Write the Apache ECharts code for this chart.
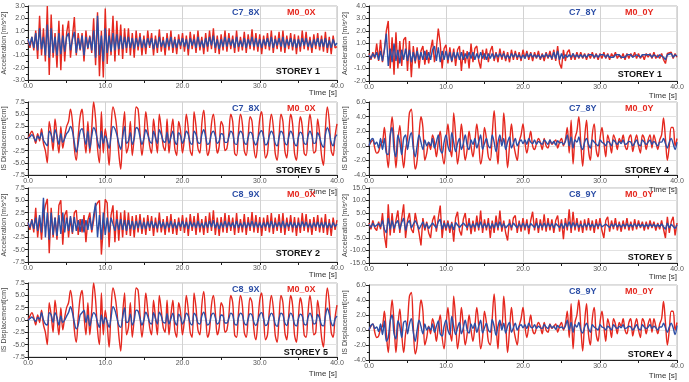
<!DOCTYPE html>
<html>
<head>
<meta charset="utf-8">
<script src="https://cdn.jsdelivr.net/npm/echarts@6/dist/echarts.min.js"></script>
<style>
html,body{margin:0;padding:0;background:#fff;}
#main{width:689px;height:382px;}
</style>
</head>
<body>
<div id="main"></div>
<script>
// sample step of the records [s], 0 .. 40 s
var dt = 0.25;
var time = [];
for (var k = 0; k <= 160; k++) time.push(k * dt);

// STOREY 1, X acceleration [m/s^2]
var accX1_M0 = [
 0.2,-0.4,0.5,-0.6, 1.0,-1.3,2.2,-1.0, 1.2,-1.5,3.0,-2.6, 2.3,-1.2,0.8,-2.0, 1.8,-2.2,1.5,-1.5,
 0.8,1.8,-1.2,0.5, 2.1,-1.0,0.8,-0.6, 0.8,-1.5,1.0,-0.5, 0.6,-0.8,2.0,-1.8, 2.5,-2.7,1.0,-2.8,
 2.8,-1.7,1.2,-1.0, 2.2,-1.5,1.8,-1.0, 1.5,-1.3,1.2,-0.8, 1.2,-1.0,0.8,-1.2, 1.0,-0.6,0.8,-1.0,
 0.6,-0.9,1.0,-0.4, 0.8,-1.0,0.6,-0.8, 1.1,-0.7,0.5,-1.0, 0.8,-0.6,1.0,-0.8, 0.5,-0.9,0.7,-0.5,
 0.8,-0.7,0.6,-1.0, 0.9,-0.5,0.7,-0.8, 1.0,-0.6,0.5,-0.9, 0.8,-0.7,1.0,-0.5, 1.2,-0.8,0.6,-0.9,
 0.7,-0.6,1.0,-0.7, 0.8,-0.5,0.6,-0.8, 1.0,-0.7,0.5,-0.6, 0.9,-0.8,0.7,-0.5, 1.1,-0.6,0.8,-0.7,
 0.7,-0.9,0.6,-0.5, 0.8,-0.6,1.0,-0.8, 0.6,-0.5,0.9,-0.7, 1.0,-0.8,0.6,-0.5, 0.8,-0.6,0.7,-0.9,
 0.6,-0.7,1.0,-0.5, 0.9,-0.6,0.5,-0.8, 0.7,-0.5,0.8,-0.6, 0.6,-0.7,0.9,-0.8, 0.5,-0.9,0.6,-0.4,
 -0.3];
var accX1_C7 = [
 0.3,-0.2,0.5,-0.4, 0.8,-0.6,1.2,-0.5, 0.5,-1.0,1.5,-1.2, 1.2,-0.8,0.5,-1.0, 0.8,-0.9,0.6,-0.7,
 0.5,0.8,-0.6,0.3, 0.9,-0.8,0.4,-0.5, 0.6,-1.0,0.5,-0.4, 0.5,-0.6,1.0,-1.2, 2.2,-1.0,0.6,-1.5,
 1.2,-0.8,0.6,-0.7, 0.8,-0.6,0.7,-0.5, 0.6,-0.5,0.5,-0.4, 0.5,-0.4,0.4,-0.5, 0.4,-0.3,0.5,-0.4,
 0.3,-0.4,0.4,-0.2, 0.4,-0.5,0.3,-0.4, 0.5,-0.3,0.2,-0.4, 0.4,-0.3,0.5,-0.4, 0.3,-0.4,0.3,-0.2,
 0.4,-0.3,0.3,-0.5, 0.4,-0.2,0.3,-0.4, 0.5,-0.3,0.2,-0.4, 0.4,-0.3,0.5,-0.2, 0.6,-0.4,0.3,-0.5,
 0.3,-0.3,0.5,-0.3, 0.4,-0.2,0.3,-0.4, 0.5,-0.3,0.2,-0.3, 0.4,-0.4,0.3,-0.2, 0.5,-0.3,0.4,-0.3,
 0.3,-0.4,0.3,-0.2, 0.4,-0.3,0.5,-0.4, 0.3,-0.2,0.4,-0.3, 0.5,-0.4,0.3,-0.2, 0.4,-0.3,0.3,-0.4,
 0.3,-0.3,0.4,-0.2, 0.4,-0.3,0.2,-0.4, 0.3,-0.2,0.4,-0.3, 0.3,-0.3,0.4,-0.4, 0.2,-0.4,0.3,-0.2,
 0.0];

// STOREY 1, Y acceleration [m/s^2]
var accY1_M0 = [
 0.2,-0.3,0.3,-0.2, 1.0,-0.4,1.3,-0.5, 0.5,2.0,2.8,-1.0, 1.5,-1.5,1.9,-1.0, 1.2,-0.8,1.3,1.5,
 -1.2,1.2,-1.7,0.8, -0.6,0.7,-1.0,0.4, 0.8,-0.7,0.5,-0.6, 0.5,1.3,-0.5,0.6, 2.2,1.0,-1.0,0.6,
 0.9,-0.6,0.7,-0.5, 0.6,-0.8,0.5,0.8, -1.2,0.5,-0.6,0.4, -1.0,1.0,-0.5,0.6, 0.8,-0.4,-1.0,0.5,
 -0.3,0.6,-0.5,0.4, 0.8,-0.4,0.3,-0.5, 0.6,-0.3,0.4,-0.4, 0.3,-0.5,0.5,-0.3, 0.4,-0.3,0.3,-0.4,
 0.5,-0.2,0.4,-0.3, 0.3,-0.4,0.3,-0.2, 0.4,-0.3,0.2,-0.4, 0.3,-0.2,0.4,-0.3, 0.5,-0.4,0.8,-0.6,
 -1.0,0.5,-0.4,0.3, 0.5,-0.3,0.2,-0.3, 0.3,-0.2,0.3,-0.2, 0.2,-0.3,0.2,-0.2, 0.3,-0.2,0.2,-0.3,
 0.2,-0.2,0.3,-0.2, 0.2,-0.3,0.2,-0.1, 0.3,-0.2,0.1,-0.2, 0.2,-0.3,0.2,-0.2, 0.2,-0.1,0.3,-0.2,
 0.2,-0.2,0.1,-0.3, 0.2,-0.1,0.2,-0.2, 0.3,-0.2,0.1,-0.2, 0.2,-0.3,-0.6,0.2, 0.1,0.3,-0.2,0.2,
 -0.1];
var accY1_C7 = [
 0.1,-0.2,0.2,-0.1, 0.3,-0.3,0.4,-0.4, 0.5,1.8,-0.8,0.6, -0.5,1.0,-0.4,0.5, -0.6,0.5,-0.3,0.6,
 -0.4,0.5,-0.5,0.3, -0.4,0.4,-0.3,0.3, -0.3,0.4,-0.3,0.3, -0.3,0.5,0.8,-0.4, 0.7,-0.5,0.4,-0.3,
 0.4,-0.3,0.3,-0.4, 0.3,-0.2,0.3,-0.3, 0.3,-0.3,0.2,-0.2, 0.3,-0.2,0.3,-0.3, 0.2,-0.2,0.3,-0.2,
 0.2,-0.3,0.2,-0.2, 0.2,-0.2,0.2,-0.1, 0.2,-0.1,0.2,-0.2, 0.1,-0.2,0.2,-0.1, 0.2,-0.1,0.1,-0.2,
 0.1,-0.2,0.2,-0.1, 0.2,-0.1,0.1,-0.1, 0.1,-0.2,0.1,-0.1, 0.2,-0.1,0.1,-0.2, 0.3,-0.2,0.4,-0.3,
 0.2,-0.2,0.1,-0.1, 0.1,-0.1,0.2,-0.1, 0.1,-0.1,0.1,-0.1, 0.1,-0.1,0.1,0.0, 0.1,-0.1,0.1,-0.1,
 0.1,0.0,0.1,-0.1, 0.1,-0.1,0.0,-0.1, 0.1,0.0,0.1,-0.1, 0.0,-0.1,0.1,0.0, 0.1,-0.1,0.0,0.1,
 0.0,-0.1,0.1,0.0, 0.1,0.0,0.1,-0.1, 0.1,0.0,-0.1,0.1, 0.0,-0.1,-0.3,0.1, 0.1,0.2,-0.1,0.1,
 0.0];

// STOREY 5, X isolation displacement [cm]
var dispX5_M0 = [
 0.0,0.8,1.5,0.5, -1.0,1.0,-0.5,2.0, -1.0,-2.5,-5.0,3.5, 1.0,-2.5,4.0,0.5, -3.0,2.5,-2.0,0.5,
 2.5,3.5,6.0,3.5, -2.0,-4.5,0.5,4.5, 6.0,1.0,-3.0,3.5, -3.0,2.0,7.5,4.0, -2.0,-5.0,5.5,-3.0,
 2.0,-1.0,-5.5,2.0, 6.5,5.0,2.0,-3.0, -6.3,1.0,5.5,-3.0, -1.5,3.5,-3.5,0.5, 6.5,6.0,1.0,-3.5,
 0.0,5.5,2.0,-1.5, -3.0,4.0,0.5,-3.0, 5.0,2.0,-1.5,-2.5, 4.0,-3.0,1.0,4.0, -2.0,-3.5,3.5,1.5,
 -3.0,0.0,5.0,2.0, -2.5,-3.5,5.5,2.5, -2.0,-3.0,3.0,5.8, 1.0,-3.5,-2.0,3.0, 5.0,1.5,-3.0,-1.5,
 3.5,2.5,-2.5,-2.0, 1.0,5.0,3.5,-3.0, -3.5,1.5,5.0,3.0, -2.5,-3.5,0.5,4.5, 3.5,-2.0,-4.0,-0.5,
 4.0,5.5,0.5,-4.0, -3.0,2.0,5.0,2.5, -3.0,-4.5,0.5,5.0, 3.5,-2.5,-4.0,1.0, 5.0,3.0,-3.0,-4.5,
 0.5,4.5,2.5,-3.0, -3.5,1.5,5.0,2.0, -3.0,-2.5,4.0,1.0, -3.5,-5.5,2.0,6.5, 3.5,-2.5,-3.5,0.5,
 3.0];
var dispX5_C7 = [
 0.0,0.3,0.8,0.2, -0.5,0.5,0.0,1.2, -0.3,-1.0,-1.5,1.5, 0.8,-0.8,1.8,0.5, -1.2,1.0,-0.8,0.0,
 1.0,1.5,2.5,1.5, -0.8,-2.8,-1.0,1.5, 2.0,0.5,-1.2,1.5, -2.0,0.5,2.2,1.5, -0.5,-2.0,1.5,-1.0,
 0.5,-0.5,-2.0,0.5, 2.5,2.0,0.8,-1.0, -2.2,0.2,2.5,-1.0, -0.5,1.2,-1.2,0.0, 2.2,2.0,0.3,-1.2,
 0.0,1.8,0.8,-0.5, -1.0,1.5,0.2,-1.0, 1.8,0.8,-0.5,-0.8, 1.3,-1.0,0.3,1.5, -0.5,-1.2,1.2,0.5,
 -1.0,0.0,1.5,0.8, -0.8,-1.2,1.5,0.8, -0.8,-1.0,0.8,1.8, 0.3,-1.2,-0.8,1.0, 1.5,0.5,-1.0,-0.5,
 1.0,0.8,-0.8,-0.8, 0.3,1.5,1.0,-1.0, -1.2,0.5,1.5,1.0, -0.8,-1.2,0.2,1.3, 1.0,-0.6,-1.3,-0.2,
 1.2,1.6,0.2,-1.3, -1.0,0.6,1.5,0.8, -1.0,-1.5,0.2,1.5, 1.0,-0.8,-1.3,0.3, 1.5,0.8,-1.0,-1.5,
 0.2,1.3,0.8,-1.0, -1.2,0.5,1.5,0.6, -1.0,-0.8,1.2,0.3, -1.2,-1.8,0.8,2.2, 1.2,-0.8,-1.5,0.2,
 0.8];
var dispX5_C8 = [
 0.0,0.3,0.6,0.2, -0.3,0.5,0.2,1.5, 0.0,-0.8,-1.0,1.5, 1.0,-0.5,1.5,0.5, -1.0,0.8,-0.5,0.0,
 0.8,1.5,2.7,1.5, -0.5,-1.8,-1.0,1.0, 1.5,2.0,-0.5,1.0, -1.2,0.5,1.5,1.0, -0.5,-1.5,1.0,-0.8,
 0.5,-0.3,-1.5,0.5, 2.7,2.0,0.5,-1.0, -1.5,0.5,2.5,-0.5, -0.3,1.2,-1.0,0.0, 2.0,1.8,0.3,-1.0,
 0.0,1.6,0.8,-0.5, -0.8,1.5,0.3,-0.8, 1.6,0.8,-0.5,-0.6, 1.3,-0.8,0.3,1.4, -0.3,-1.0,1.2,0.5,
 -0.8,0.0,1.4,0.8, -0.6,-1.0,1.4,0.8, -0.6,-0.8,0.8,1.6, 0.3,-1.0,-0.6,1.0, 1.4,0.5,-0.8,-0.4,
 1.0,0.8,-0.6,-0.6, 0.3,1.4,1.0,-0.8, -1.0,0.5,1.4,1.0, -0.6,-1.0,0.2,1.3, 1.0,-0.5,-1.1,-0.2,
 1.1,1.5,0.2,-1.1, -0.8,0.6,1.4,0.8, -0.8,-1.3,0.2,1.4, 1.0,-0.6,-1.1,0.3, 1.4,0.8,-0.8,-1.2,
 0.2,1.2,0.8,-0.8, -1.0,0.5,1.4,0.6, -0.8,-0.6,1.1,0.3, -1.0,-1.2,0.8,2.4, 1.2,-0.6,-1.2,0.2,
 0.8];

// STOREY 4, Y isolation displacement [cm]
var dispY4_M0 = [
 0.0,0.5,0.8,-0.3, -1.0,-0.8,0.2,0.5, 2.5,-0.5,-3.0,1.0, 4.0,1.0,-3.0,0.5, 2.8,-0.5,-3.0,-0.5,
 1.0,4.5,5.0,0.5, -3.2,-2.0,1.5,4.0, 2.5,-2.0,-1.0,0.5, -0.5,1.5,0.5,-1.5, 0.5,2.0,-1.0,-2.5,
 0.5,3.0,0.0,-1.5, 4.5,1.5,-2.5,-0.5, 3.0,0.5,-2.0,-0.5, 2.0,0.0,-1.5,0.5, 3.0,0.5,-2.5,-1.0,
 2.5,1.0,-1.5,-2.0, 1.5,4.8,1.0,-2.5, 1.0,0.5,4.5,1.0, -3.0,0.0,3.0,0.5, -1.0,-2.0,0.5,1.5,
 3.0,0.5,-1.0,0.5, 2.0,0.0,-0.5,0.3, 1.0,0.5,-0.5,1.0, 0.0,-0.3,0.8,0.2, 0.5,0.8,-0.3,0.5,
 1.0,0.0,0.8,2.5, -1.0,3.5,-2.5,1.0, 2.0,4.0,0.5,-2.8, 1.0,3.5,-0.5,-2.0, 1.5,3.0,-0.5,-1.5,
 1.0,2.5,0.5,-1.5, 1.5,0.5,-1.0,1.5, 0.8,-0.5,1.0,0.5, 1.5,0.0,-0.5,1.0, 1.5,-0.8,0.5,1.5,
 0.0,-1.0,1.5,1.0, -0.5,0.8,1.5,-0.3, 1.5,0.5,-0.5,0.8, 1.5,3.8,1.0,-2.0, 0.0,2.5,2.5,0.0,
 1.0];
var dispY4_C7 = [
 0.0,0.8,1.0,0.2, 0.5,-0.3,1.0,-0.5, 1.0,-1.0,-1.2,1.5, 2.5,-0.5,-1.5,1.5, 0.5,-1.2,1.0,1.5,
 -0.5,1.0,1.8,-0.3, -1.5,0.0,1.5,0.5, -0.5,0.8,0.0,0.5, 0.0,1.0,-0.3,0.5, 1.5,-0.5,-1.0,0.5,
 1.5,0.0,-0.8,1.8, 0.5,-0.8,0.3,1.0, -0.5,0.3,1.5,0.0, -0.5,0.8,0.2,1.0, -0.3,0.5,1.5,-0.5,
 0.3,1.0,0.0,-0.3, 1.5,0.5,-0.8,0.5, 1.5,0.0,1.0,-0.5, 0.5,1.2,-0.3,0.3, 1.0,0.0,0.5,0.8,
 0.3,0.8,0.2,1.0, 0.5,0.3,0.8,0.2, 0.6,0.4,0.2,0.8, 0.5,0.2,0.8,0.3, 0.6,0.1,0.7,0.4,
 0.5,0.2,0.6,1.5, 0.0,1.2,-0.3,0.8, 0.5,1.2,0.0,-0.5, 0.5,1.0,0.2,-0.3, 0.8,0.5,0.2,0.0,
 0.8,0.5,0.3,0.0, 0.6,0.4,0.0,0.8, 0.5,0.2,0.6,0.3, 0.8,0.2,0.3,0.6, 0.5,0.0,0.4,0.8,
 0.2,0.0,0.8,0.5, 0.2,0.5,0.8,0.2, 0.6,0.3,0.0,0.5, 0.5,1.0,0.3,-0.3, 0.5,1.0,0.3,-0.5,
 0.5];
var dispY4_C8 = [
 0.0,0.6,0.8,0.2, 0.4,-0.2,0.8,-0.6, 1.2,-1.5,-1.0,1.2, 2.0,-0.5,-1.2,1.2, 0.5,-1.0,1.0,1.2,
 -0.5,0.8,1.5,-0.3, -1.5,0.0,1.3,0.5, -0.5,0.8,0.0,0.4, 0.0,0.8,-0.3,0.5, 1.2,-0.5,-0.8,0.5,
 1.3,0.0,-0.6,1.8, 0.5,-0.6,0.3,1.0, -0.5,0.3,1.3,0.0, -0.4,0.8,0.2,0.9, -0.3,0.5,1.3,-0.4,
 0.3,0.9,0.0,-0.3, 1.4,0.5,-0.7,0.5, 1.3,0.0,0.9,-0.4, 0.5,1.0,-0.3,0.3, 0.9,0.0,0.5,0.7,
 0.3,0.7,0.2,0.9, 0.4,0.3,0.7,0.2, 0.5,0.3,0.2,0.7, 0.4,0.2,0.7,0.3, 0.5,0.1,0.6,0.3,
 0.4,0.2,0.5,1.3, 0.0,1.0,-0.3,0.7, 0.4,1.0,0.0,-0.4, 0.4,0.9,0.2,-0.3, 0.7,0.4,0.2,0.0,
 0.7,0.4,0.3,0.0, 0.5,0.3,0.0,0.7, 0.4,0.2,0.5,0.3, 0.7,0.2,0.3,0.5, 0.4,0.0,0.3,0.7,
 0.2,0.0,0.7,0.4, 0.2,0.4,0.7,0.2, 0.5,0.3,0.0,0.4, 0.4,0.9,0.3,-0.3, 0.4,0.9,0.3,-0.6,
 0.6];

// STOREY 2, X acceleration [m/s^2]
var accX2_M0 = [
 0.5,-1.0,1.2,-1.5, 3.5,-2.5,1.5,-3.0, 2.0,4.0,5.3,-5.7, 3.5,-2.5,1.5,-3.0, 4.0,5.0,-4.0,2.0,
 3.0,-2.5,1.5,-1.8, 2.5,3.0,-2.0,1.2, -1.5,2.0,-3.5,1.0, 2.5,-1.5,1.0,3.8, 4.5,5.0,-6.0,-6.3,
 5.2,4.5,-4.5,2.0, 4.0,-3.5,3.0,-3.2, 2.5,-2.5,3.0,-2.0, 2.5,-2.2,1.8,-2.5, 2.0,-1.5,2.2,-1.8,
 1.5,-2.0,2.0,-1.2, 1.8,-2.2,1.5,-1.5, 2.5,-1.5,1.2,-2.0, 1.8,-1.5,2.2,-1.8, 1.2,-2.0,1.5,-1.2,
 2.0,-1.6,1.5,-2.2, 2.2,-1.2,1.8,-2.0, 2.4,-1.5,1.2,-2.0, 1.8,-1.6,2.5,-1.2, 3.0,-2.0,1.5,-2.2,
 1.6,-1.5,2.4,-1.6, 2.0,-1.2,1.5,-2.0, 2.4,-1.6,1.2,-1.5, 2.2,-2.0,1.6,-1.2, 2.6,-1.5,2.0,-1.6,
 1.6,-2.2,1.5,-1.2, 2.0,-1.5,2.4,-1.8, 1.5,-1.2,2.2,-1.6, 2.4,-2.0,1.5,-1.2, 2.0,-1.5,1.6,-2.2,
 1.5,-1.6,2.4,-1.2, 2.2,-1.5,1.2,-2.0, 1.6,-1.2,2.0,-1.5, 1.5,-1.6,2.2,-2.0, 1.2,-2.2,1.5,-1.0,
 1.0];
var accX2_C8 = [
 0.5,-0.5,1.0,-0.8, 1.5,-1.2,2.0,-1.5, 5.5,-2.5,2.5,-3.0, 2.5,-2.0,1.5,-2.2, 2.0,-1.8,2.5,-1.5,
 1.5,-1.2,1.8,-1.5, 1.6,-1.2,1.0,-1.4, 1.2,-1.5,1.0,-1.0, 1.5,-1.0,2.0,4.5, -2.5,2.0,-3.0,2.5,
 -2.0,1.5,-1.5,1.5, 1.8,-1.2,1.2,-1.0, 1.2,-1.0,1.0,-1.2, 1.0,-0.8,0.8,-1.0, 0.8,-0.6,1.0,-0.8,
 0.6,-0.8,0.7,-0.5, 0.8,-0.6,0.5,-0.7, 0.9,-0.5,0.6,-0.8, 0.6,-0.5,0.8,-0.6, 0.5,-0.7,0.6,-0.4,
 0.8,-0.5,0.6,-0.8, 0.7,-0.4,0.5,-0.6, 0.8,-0.5,0.4,-0.6, 0.6,-0.5,0.8,-0.4, 1.0,-0.6,0.5,-0.8,
 0.5,-0.5,0.8,-0.5, 0.6,-0.4,0.5,-0.6, 0.8,-0.5,0.4,-0.5, 0.6,-0.6,0.5,-0.4, 0.8,-0.5,0.6,-0.5,
 0.5,-0.6,0.5,-0.4, 0.6,-0.5,0.8,-0.6, 0.5,-0.4,0.6,-0.5, 0.8,-0.6,0.5,-0.4, 0.6,-0.5,0.5,-0.6,
 0.5,-0.5,0.7,-0.4, 0.6,-0.5,0.4,-0.6, 0.5,-0.4,0.6,-0.5, 0.5,-0.5,0.6,-0.6, 0.4,-0.6,0.5,-0.3,
 0.2];

// STOREY 5, Y acceleration [m/s^2]
var accY5_M0 = [
 1.0,-1.5,2.0,-1.0, -2.0,1.5,-1.5,5.0, -4.0,-9.0,8.5,-4.0, 5.0,-3.0,2.0,6.0, -3.0,3.0,8.5,-5.0,
 2.0,5.0,-1.5,-3.0, 5.0,1.0,-3.0,-8.0, 3.0,-2.0,1.5,-3.0, -5.0,2.0,4.0,-2.5, 3.0,8.0,-5.0,2.0,
 -2.0,2.0,-3.0,1.5, -6.5,3.0,5.5,-2.0, -4.0,2.5,5.0,-2.0, 3.0,-3.5,2.0,-2.5, 4.0,-2.0,6.0,-3.0,
 2.5,-2.0,3.0,-5.0, 2.0,-3.0,4.0,-2.0, 6.0,-2.5,2.0,-3.0, -6.0,2.5,-2.0,3.0, 4.0,-3.0,2.0,-2.5,
 3.0,-2.0,2.5,-3.5, 2.0,5.5,-2.0,3.0, -3.0,2.5,-2.0,4.5, -2.5,3.0,-2.0,2.5, -3.0,2.0,4.0,-2.5,
 2.5,-5.5,3.0,-2.0, 6.5,-3.0,5.5,-2.0, 3.0,-2.5,2.0,-3.0, 2.5,-2.0,3.0,-2.0, 2.0,-3.0,2.5,-1.5,
 3.0,-2.0,-5.0,2.0, 3.5,-2.5,2.0,-1.5, 3.0,-2.0,1.5,-2.5, 2.0,-1.5,3.0,-2.0, 1.5,-2.0,2.5,-1.5,
 2.0,-1.0,1.5,-2.0, 1.5,-1.5,2.0,-1.0, 1.5,-2.0,1.0,-1.5, 2.0,-1.5,-5.0,3.5, -3.0,1.5,3.5,-4.0,
 1.0];
var accY5_C8 = [
 0.5,-0.8,1.0,-0.5, -1.0,0.8,-0.6,2.0, -1.5,-3.0,3.0,-1.5, 2.0,-1.2,1.0,2.0, -1.5,1.2,3.0,-2.0,
 1.0,2.0,-1.0,-1.2, 2.0,0.5,-1.5,-2.0, 1.5,-1.0,0.8,-1.2, -1.5,1.0,1.5,-1.0, 1.5,2.5,-1.5,1.0,
 -1.0,1.0,-1.2,0.8, -1.8,1.2,1.5,-0.8, -1.2,1.0,1.5,-0.8, 1.0,-1.0,0.8,-0.8, 1.2,-0.8,1.5,-1.0,
 0.8,-0.8,1.0,-1.2, 0.8,-1.0,1.2,-0.8, 1.5,-0.8,0.8,-1.0, -1.5,0.8,-0.8,1.0, 1.0,-1.0,0.8,-0.8,
 1.0,-0.8,0.8,-1.0, 0.8,1.2,-0.8,1.0, -1.0,0.8,-0.8,1.0, -0.8,1.0,-0.6,0.8, -1.0,0.8,1.0,-0.8,
 0.8,-1.2,1.0,-0.6, 1.5,-1.0,1.2,-0.6, 1.0,-0.8,0.6,-0.8, 0.8,-0.6,1.0,-0.6, 0.6,-0.8,0.8,-0.5,
 0.8,-0.6,-1.2,0.6, 1.0,-0.8,0.6,-0.5, 0.8,-0.6,0.5,-0.8, 0.6,-0.5,0.8,-0.6, 0.5,-0.6,0.8,-0.5,
 0.6,-0.4,0.5,-0.6, 0.5,-0.5,0.6,-0.4, 0.5,-0.6,0.4,-0.5, 0.6,-0.5,-1.5,1.0, -1.0,0.5,1.0,-1.2,
 0.3];

// panel order: row by row, left then right
var redSeries  = [accX1_M0, accY1_M0, dispX5_M0, dispY4_M0, accX2_M0, accY5_M0, dispX5_M0, dispY4_M0];
var blueSeries = [accX1_C7, accY1_C7, dispX5_C7, dispY4_C7, accX2_C8, accY5_C8, dispX5_C8, dispY4_C8];
var redNames   = ['M0_0X', 'M0_0Y', 'M0_0X', 'M0_0Y', 'M0_0X', 'M0_0Y', 'M0_0X', 'M0_0Y'];
var blueNames  = ['C7_8X', 'C7_8Y', 'C7_8X', 'C7_8Y', 'C8_9X', 'C8_9Y', 'C8_9X', 'C8_9Y'];
var storeys    = ['STOREY 1', 'STOREY 1', 'STOREY 5', 'STOREY 4', 'STOREY 2', 'STOREY 5', 'STOREY 5', 'STOREY 4'];
var yNames     = ['Acceleration [m/s^2]', 'Acceleration [m/s^2]', 'IS Displacement[cm]', 'IS Displacement[cm]',
                  'Acceleration [m/s^2]', 'Acceleration [m/s^2]', 'IS Displacement[cm]', 'IS Displacement[cm]'];
var yMin  = [-3, -2, -7.5, -4, -7.5, -15, -7.5, -4];
var yMax  = [3, 4, 7.5, 6, 7.5, 15, 7.5, 6];
var yStep = [1, 1, 2.5, 2, 2.5, 5, 2.5, 2];

var RED = '#e5281f';
var BLUE = '#2c4ea6';

// plot boxes
var boxes = [
	{left: 28,  top: 6,   width: 309, height: 74},
	{left: 369, top: 6,   width: 308, height: 75},
	{left: 28,  top: 102, width: 309, height: 73},
	{left: 369, top: 102, width: 308, height: 73},
	{left: 28,  top: 188, width: 309, height: 74},
	{left: 369, top: 188, width: 308, height: 75},
	{left: 28,  top: 283, width: 309, height: 74},
	{left: 369, top: 285, width: 308, height: 75}
];
var storeyRight = [17, 15, 17, 8, 17, 5, 9, 5];
var storeyUp = [8, 6, 4, 4, 8, 5, 4, 5];
var timeDown = [9, 11, 13, 11, 9, 10, 13, 12];

function pairs(vals) {
	return vals.map(function (v, i) { return [time[i], v]; });
}

var myChart = echarts.init(document.getElementById('main'));
var option = {
	animation: false,
	backgroundColor: '#fff',
	grid: [], xAxis: [], yAxis: [], series: [], graphic: []
};
var lblFont = {fontSize: 7, color: '#555', fontFamily: 'Liberation Sans, Arial, sans-serif'};

for (var i = 0; i < 8; i++) {
	var b = boxes[i];
	var isDisp = (i % 4 == 2 || i % 4 == 3);
	option.grid.push({left: b.left, top: b.top, width: b.width, height: b.height,
		show: true, borderColor: '#b8b8b8', borderWidth: 1, containLabel: false});
	option.xAxis.push({
		type: 'value', gridIndex: i, min: 0, max: 40, interval: 10,
		name: 'Time [s]', nameLocation: 'end', nameGap: 0, nameMoveOverlap: false,
		nameTextStyle: {fontSize: 8, color: '#333', align: 'right', verticalAlign: 'top', padding: [timeDown[i], 0, 0, 0],
			fontFamily: 'Liberation Sans, Arial, sans-serif'},
		axisLine: {onZero: false, lineStyle: {color: '#222', width: 1}},
		axisTick: {length: 3, lineStyle: {color: '#222'}},
		minorTick: {show: true, splitNumber: 2, length: 3, lineStyle: {color: '#222'}},
		axisLabel: Object.assign({margin: 3, formatter: function (v) { return v.toFixed(1); }}, lblFont),
		splitLine: {show: true, lineStyle: {color: '#d2d2d2', width: 1}}
	});
	option.yAxis.push({
		type: 'value', gridIndex: i, min: yMin[i], max: yMax[i], interval: yStep[i],
		name: yNames[i], nameLocation: 'middle', nameGap: 20, nameMoveOverlap: false,
		nameTextStyle: {fontSize: 7, color: '#444', fontFamily: 'Liberation Sans, Arial, sans-serif'},
		axisLine: {show: true, lineStyle: {color: '#222', width: 1}},
		axisTick: {show: true, length: 3, lineStyle: {color: '#222'}},
		minorTick: {show: true, splitNumber: 2, length: 2, lineStyle: {color: '#222'}},
		axisLabel: Object.assign({margin: 3, formatter: function (v) { return v.toFixed(1); }}, lblFont),
		splitLine: {show: true, lineStyle: {color: '#e2e2e2', width: 1}}
	});
	option.series.push({
		name: redNames[i], type: 'line', xAxisIndex: i, yAxisIndex: i,
		data: pairs(redSeries[i]), showSymbol: false, smooth: isDisp ? 0.35 : false,
		lineStyle: {color: RED, width: 1.4}, itemStyle: {color: RED}
	});
	option.series.push({
		name: blueNames[i], type: 'line', xAxisIndex: i, yAxisIndex: i,
		data: pairs(blueSeries[i]), showSymbol: false, smooth: isDisp ? 0.35 : false,
		lineStyle: {color: BLUE, width: 1.4}, itemStyle: {color: BLUE}
	});
	var leftCol = (i % 2 == 0);
	option.graphic.push({
		type: 'text', silent: true, z: 100, x: b.left + (leftCol ? 204 : 200), y: b.top + 7,
		style: {text: blueNames[i], fill: BLUE, font: 'bold 9px "Liberation Sans", Arial, sans-serif', verticalAlign: 'middle'}
	});
	option.graphic.push({
		type: 'text', silent: true, z: 100, x: b.left + (leftCol ? 259 : 256), y: b.top + 7,
		style: {text: redNames[i], fill: RED, font: 'bold 9px "Liberation Sans", Arial, sans-serif', verticalAlign: 'middle'}
	});
	option.graphic.push({
		type: 'text', silent: true, z: 100, x: b.left + b.width - storeyRight[i], y: b.top + b.height - storeyUp[i],
		style: {text: storeys[i], fill: '#111', font: 'bold 9px "Liberation Sans", Arial, sans-serif', align: 'right', verticalAlign: 'middle'}
	});
}

myChart.setOption(option);
</script>
</body>
</html>
